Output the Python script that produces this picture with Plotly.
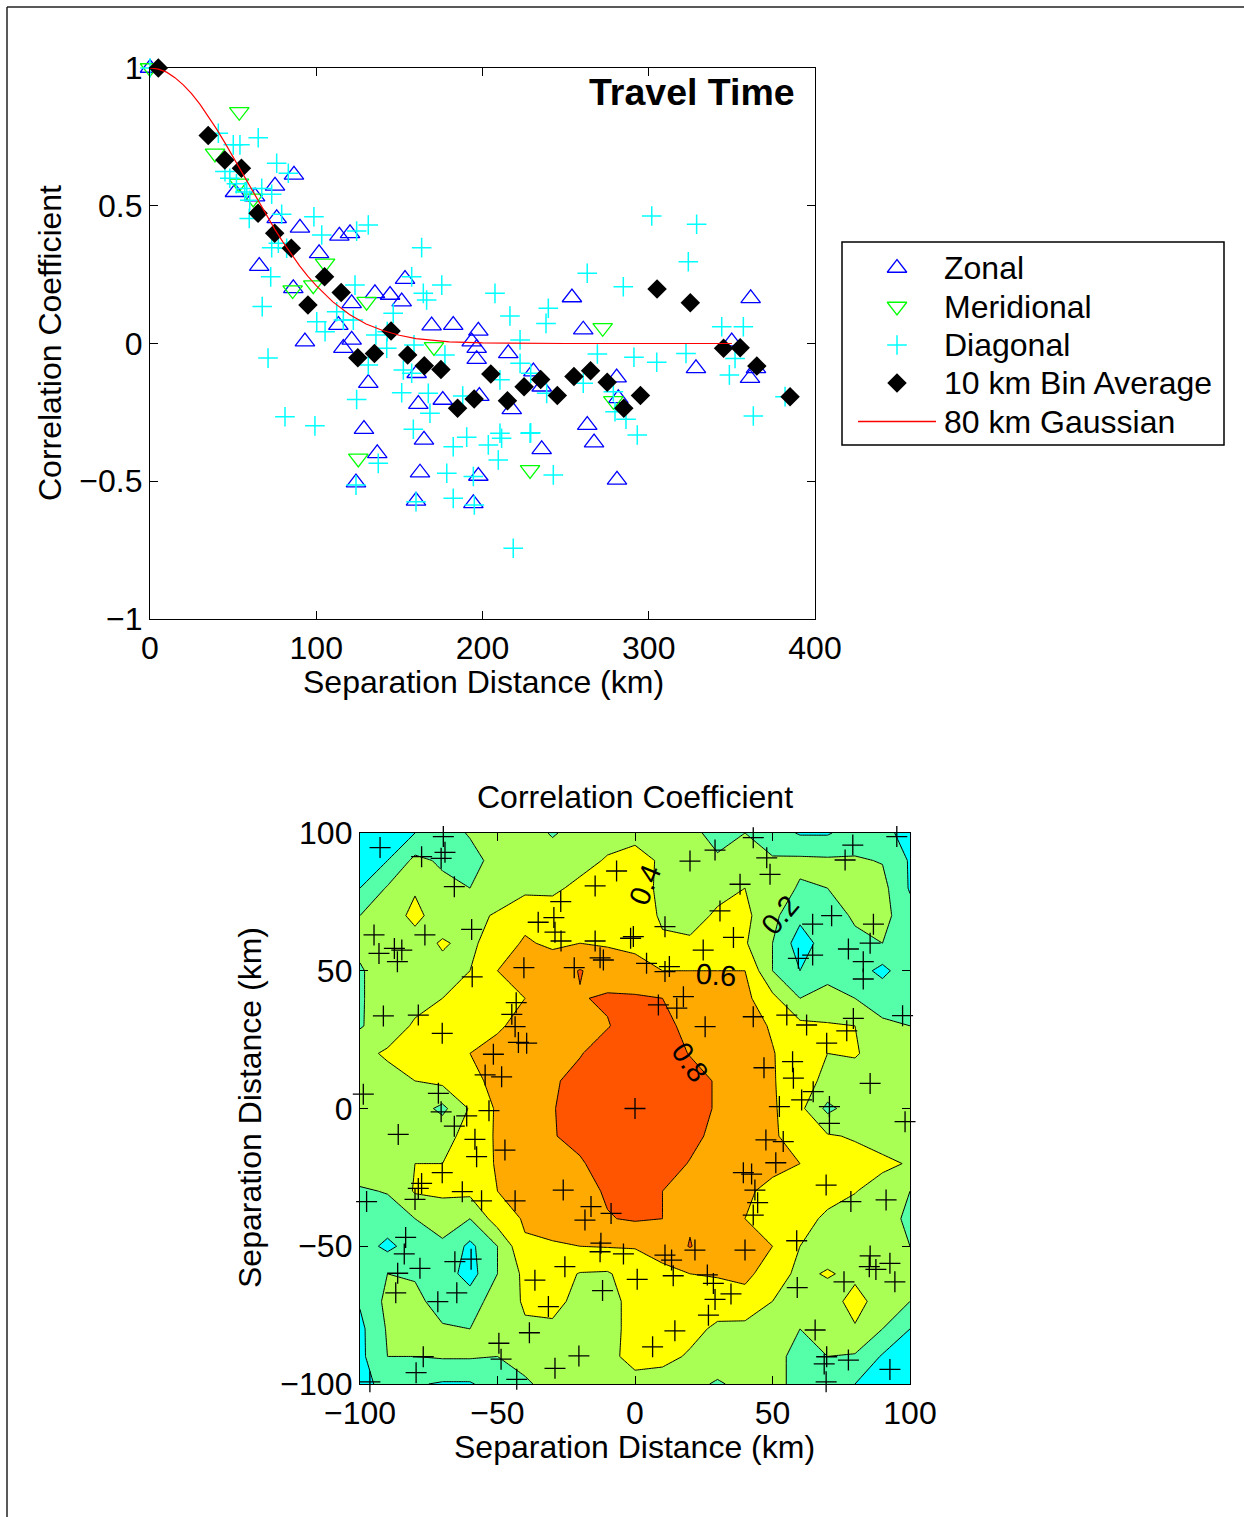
import plotly.graph_objects as go

# ---------------- Top panel data ----------------
zonal_d = [0, 86.6, 75.2, 51.1, 63.2, 76.2, 90.2, 113.9, 120.3, 101.7, 65.7, 86.2, 135.3, 144.4, 151.4,
           153.4, 113.3, 93.2, 121.3, 169.4, 116.3, 121.3, 182.4, 197.5, 193.5, 196.5, 196.5, 215.5, 253.8,
           260.6, 131.3, 160.4, 161.4, 176.1, 198.1, 217.6, 235.6, 128.7, 164.8, 136.7, 235.6, 123.9, 162.4,
           197.5, 160.0, 194.5, 230.6, 280.7, 281.7, 328.4, 349.9, 361.3, 360.9, 364.5, 263.0, 267.1, 280.9]
zonal_r = [1.00, 0.612, 0.572, 0.549, 0.533, 0.454, 0.420, 0.391, 0.400, 0.327, 0.281, 0.200, 0.182, 0.176,
           0.152, 0.234, 0.067, 0.007, 0.013, 0.065, -0.017, 0.146, 0.067, 0.046, 0.007, -0.017, -0.057,
           -0.036, 0.167, 0.050, -0.144, -0.108, -0.220, -0.205, -0.191, -0.239, -0.157, -0.311, -0.350,
           -0.399, -0.384, -0.505, -0.469, -0.481, -0.571, -0.580, -0.102, -0.124, -0.199, -0.090, 0.007,
           0.164, -0.126, -0.090, -0.296, -0.360, -0.495]

merid_d = [0, 53.7, 39.1, 53.5, 62.1, 105.3, 98.2, 85.8, 130.3, 170.8, 125.3, 228.6, 272.3, 278.7]
merid_r = [1.0, 0.841, 0.690, 0.581, 0.527, 0.291, 0.212, 0.194, 0.152, -0.012, -0.417, -0.459, 0.057, -0.208]

diag_d = [0, 41.1, 65.1, 50.1, 54.1, 45.1, 76.2, 83.2, 58.2, 67.2, 73.2, 59.7, 79.2, 98.6, 131.3, 103.3, 77.2,
          73.2, 82.2, 72.6, 123.3, 164.4, 157.4, 67.5, 100.3, 105.3, 122.3, 135.9, 163.4, 158.8, 142.4, 124.3,
          175.5, 207.5, 239.6, 216.5, 238.2, 166.4, 146.3, 116.3, 177.4, 152.4, 157.4, 151.4, 131.3, 124.3,
          81.2, 99.2, 158.4, 167.4, 168.4, 182.4, 190.5, 188.1, 203.5, 210.5, 211.5, 209.5, 228.6, 222.6,
          210.5, 229.0, 242.6, 194.5, 178.5, 182.4, 160.0, 195.1, 218.5, 137.3, 123.9, 301.8, 328.8, 323.8,
          263.0, 284.7, 343.9, 356.9, 269.1, 291.1, 304.8, 322.4, 351.9, 348.5, 222.6, 260.6, 238.6, 278.7,
          279.7, 286.3, 382.0, 362.9, 229.0, 293.1, 71.0, 112.3, 142.7, 52, 57, 48, 60]
diag_r = [1.0, 0.763, 0.747, 0.721, 0.721, 0.624, 0.654, 0.618, 0.563, 0.563, 0.542, 0.454, 0.469, 0.460,
          0.430, 0.394, 0.364, 0.348, 0.346, 0.242, 0.212, 0.182, 0.242, 0.134, 0.079, 0.043, 0.085, 0.031,
          0.348, -0.005, -0.017, 0.408, 0.212, 0.182, 0.128, 0.100, 0.073, 0.158, 0.110, 0.085, -0.042,
          -0.096, -0.108, -0.179, -0.078, -0.203, -0.266, -0.299, -0.311, -0.181, -0.253, -0.375, -0.340,
          -0.191, -0.368, -0.326, -0.344, -0.423, -0.326, 0.013, -0.132, -0.108, -0.477, -0.483, -0.471,
          -0.562, -0.574, -0.586, -0.743, -0.435, -0.514, 0.463, 0.433, 0.297, 0.255, 0.206, 0.061, 0.061,
          -0.038, -0.050, -0.068, -0.036, -0.054, -0.114, -0.072, -0.144, -0.181, -0.175, -0.248, -0.275,
          -0.193, -0.263, -0.324, -0.332, -0.053, 0.115, 0.043, 0.58, 0.55, 0.60, 0.52]

bin_d = [5, 35, 45, 55, 65, 75, 85, 95, 105, 115, 125, 135, 145, 155, 165, 175, 185, 195, 205, 215, 225,
         235, 245, 255, 265, 275, 285, 295, 305, 325, 345, 355, 365, 385]
bin_r = [1.0, 0.755, 0.666, 0.636, 0.473, 0.400, 0.346, 0.140, 0.242, 0.185, -0.052, -0.036, 0.045,
         -0.042, -0.081, -0.094, -0.235, -0.201, -0.111, -0.208, -0.157, -0.131, -0.189, -0.120, -0.099,
         -0.141, -0.235, -0.189, 0.198, 0.148, -0.017, -0.015, -0.082, -0.193]

gauss_d = [0, 5, 10, 15, 20, 25, 30, 35, 40, 45, 50, 55, 60, 65, 70, 75, 80, 85, 90, 95, 100, 110, 120,
           130, 140, 150, 160, 180, 200, 250, 300, 350]
gauss_r = [1.000, 0.996, 0.985, 0.965, 0.939, 0.907, 0.869, 0.826, 0.779, 0.729, 0.677, 0.623, 0.570,
           0.517, 0.465, 0.415, 0.368, 0.323, 0.282, 0.244, 0.210, 0.151, 0.105, 0.071, 0.047, 0.030,
           0.018, 0.006, 0.002, 0.000, 0.000, 0.000]

top_xticks = [0, 100, 200, 300, 400]
top_yticks = [-1, -0.5, 0, 0.5, 1]
top_yticklabels = ["\u22121", "\u22120.5", "0", "0.5", "1"]

legend_labels = ["Zonal", "Meridional", "Diagonal", "10 km Bin Average", "80 km Gaussian"]

# ---------------- Bottom panel data ----------------
grid_x = [-100, -90, -80, -70, -60, -50, -40, -30, -20, -10, 0, 10, 20, 30, 40, 50, 60, 70, 80, 90, 100]
grid_y_top_down = [100, 90, 80, 70, 60, 50, 40, 30, 20, 10, 0, -10, -20, -30, -40, -50, -60, -70, -80, -90, -100]
z_rows_top_down = [
    [-0.10, -0.05, 0.00, 0.10, 0.22, 0.28, 0.30, 0.18, 0.28, 0.32, 0.36, 0.32, 0.24, 0.15, 0.20, 0.10, -0.02, -0.02, 0.10, 0.08, -0.10],
    [-0.08, 0.00, 0.25, 0.17, 0.12, 0.28, 0.30, 0.30, 0.33, 0.42, 0.45, 0.38, 0.20, 0.22, 0.25, 0.22, 0.24, 0.23, 0.22, 0.19, -0.02],
    [0.00, 0.22, 0.38, 0.25, 0.20, 0.30, 0.35, 0.36, 0.45, 0.50, 0.50, 0.35, 0.28, 0.36, 0.40, 0.30, 0.18, 0.20, 0.26, 0.26, -0.02],
    [0.20, 0.30, 0.45, 0.30, 0.35, 0.42, 0.55, 0.50, 0.55, 0.52, 0.48, 0.38, 0.35, 0.42, 0.45, 0.25, 0.05, 0.10, 0.23, 0.26, 0.08],
    [0.25, 0.30, 0.32, 0.42, 0.35, 0.52, 0.62, 0.57, 0.60, 0.58, 0.55, 0.42, 0.42, 0.50, 0.42, 0.20, -0.10, 0.10, 0.15, 0.20, 0.15],
    [0.18, 0.30, 0.30, 0.35, 0.40, 0.60, 0.66, 0.70, 0.81, 0.72, 0.68, 0.60, 0.60, 0.60, 0.60, 0.20, 0.00, 0.15, 0.10, -0.06, 0.15],
    [0.18, 0.30, 0.35, 0.40, 0.50, 0.50, 0.60, 0.72, 0.79, 0.82, 0.82, 0.80, 0.72, 0.68, 0.65, 0.45, 0.20, 0.25, 0.20, 0.15, 0.10],
    [0.18, 0.32, 0.42, 0.45, 0.52, 0.58, 0.65, 0.72, 0.74, 0.79, 0.88, 0.85, 0.75, 0.70, 0.68, 0.58, 0.45, 0.42, 0.40, 0.22, 0.20],
    [0.36, 0.42, 0.45, 0.50, 0.60, 0.65, 0.70, 0.75, 0.79, 0.88, 0.92, 0.90, 0.79, 0.72, 0.70, 0.61, 0.50, 0.40, 0.42, 0.30, 0.28],
    [0.30, 0.35, 0.40, 0.45, 0.55, 0.65, 0.72, 0.78, 0.85, 0.90, 0.95, 0.92, 0.88, 0.78, 0.70, 0.62, 0.45, 0.37, 0.30, 0.30, 0.25],
    [0.30, 0.30, 0.30, 0.15, 0.42, 0.63, 0.70, 0.79, 0.88, 0.95, 1.00, 0.95, 0.88, 0.78, 0.70, 0.63, 0.45, 0.15, 0.30, 0.30, 0.30],
    [0.30, 0.30, 0.32, 0.35, 0.45, 0.63, 0.70, 0.79, 0.85, 0.92, 0.95, 0.92, 0.85, 0.75, 0.70, 0.63, 0.50, 0.42, 0.38, 0.30, 0.30],
    [0.30, 0.30, 0.40, 0.40, 0.48, 0.62, 0.70, 0.75, 0.78, 0.88, 0.90, 0.88, 0.79, 0.70, 0.65, 0.65, 0.60, 0.50, 0.48, 0.45, 0.38],
    [0.18, 0.21, 0.42, 0.45, 0.45, 0.60, 0.66, 0.72, 0.74, 0.82, 0.88, 0.80, 0.75, 0.70, 0.63, 0.55, 0.45, 0.42, 0.41, 0.30, 0.20],
    [0.12, 0.12, 0.20, 0.25, 0.20, 0.50, 0.62, 0.68, 0.72, 0.79, 0.82, 0.80, 0.78, 0.70, 0.60, 0.50, 0.42, 0.39, 0.30, 0.30, 0.15],
    [0.10, -0.05, 0.10, 0.18, -0.05, 0.20, 0.58, 0.58, 0.60, 0.61, 0.61, 0.68, 0.81, 0.68, 0.65, 0.60, 0.40, 0.30, 0.30, 0.30, 0.20],
    [0.05, 0.20, 0.18, 0.10, -0.08, 0.20, 0.45, 0.48, 0.39, 0.38, 0.50, 0.55, 0.60, 0.62, 0.65, 0.50, 0.35, 0.42, 0.35, 0.30, 0.25],
    [0.02, 0.25, 0.25, 0.12, 0.10, 0.30, 0.42, 0.45, 0.35, 0.35, 0.45, 0.50, 0.50, 0.48, 0.52, 0.40, 0.30, 0.30, 0.48, 0.30, 0.20],
    [-0.05, 0.22, 0.25, 0.22, 0.20, 0.30, 0.38, 0.37, 0.32, 0.35, 0.45, 0.50, 0.45, 0.37, 0.35, 0.30, 0.20, 0.28, 0.38, 0.20, 0.00],
    [-0.05, 0.20, 0.20, 0.22, 0.22, 0.20, 0.25, 0.30, 0.30, 0.36, 0.45, 0.45, 0.38, 0.30, 0.30, 0.25, 0.15, 0.20, 0.18, -0.02, -0.10],
    [-0.10, 0.10, 0.02, -0.02, -0.02, 0.10, 0.18, 0.25, 0.30, 0.30, 0.35, 0.32, 0.25, 0.18, 0.25, 0.25, 0.15, 0.10, 0.00, -0.05, -0.10],
]
contour_levels = [0.0, 0.8, 0.2]  # start, end, step

pts_x = [-92.7, -69.7, -69.1, -70.5, -77.6, -65.7, -59.4, -76.4, -94.9, -93.1, -87.5, -84.8, -86.4, -27.0,
         -29.5, -35.2, -29.1, -26.9, -14.5, -6.7, -14.5, -12.7, -11.5, -1.6, -40.4, -22.1, -59.2, -43.2,
         -44.8, -43.6, -42.4, -39.4, -51.5, -48.5, -54.5, -70.1, -78.8, -91.5, -98.8, -71.5,
         43.0, 29.1, 20.0, 47.9, 49.1, 38.2, 79.2, 76.4, 95.2, 30.9, 10.9, -0.6, 35.8, 24.8, 4.2, 12.5, 10.9,
         64.6, 71.5, 86.7, 85.5, 77.6, 59.4, 64.6, 83.0, 83.0, 17.6, 8.5, 15.2, 25.5, 43.0, 55.2, 62.4, 79.4,
         77.0, 69.7, 57.3, 57.6, 46.9, 85.5, 64.8, 60.6, 97.3,
         -70.5, -61.2, -53.1, -65.7, -86.1, -58.2, -57.6, -47.3, -70.1, -77.6, -78.8, -80.0, -62.8, -55.8,
         -97.6, -43.6, -26.1, -16.0, -18.2, -8.7, -12.4, -12.7, -4.2, -25.5, -83.4, -83.9, -86.3, -78.2,
         -87.0, -71.7, -64.8, -65.5, -59.6, -36.4, -31.5, -11.8, -38.4, -49.5, -48.7, -77.0, -79.6, -20.4,
         -29.1, -43.0, -96.4,
         0.0, 52.5, 70.7, 70.7, 98.2, 47.6, 53.9, 51.2, 39.4, 42.4, 43.6, 44.6, 43.0, 69.5, 78.5, 91.3, 58.8,
         40.0, 21.8, 10.9, 13.3, 0.8, 13.9, 26.3, 28.5, 29.1, 34.9, 26.7, 14.5, 6.4, 59.0, 76.0, 85.5, 85.2,
         87.6, 92.7, 94.5, 65.5, 69.7, 68.8, 77.6, 69.5, 92.7]
pts_y = [94.7, 98.7, 93.0, 90.8, 91.4, 80.5, 65.0, 63.0, 63.0, 56.3, 58.1, 57.5, 53.3, 75.1,
         69.3, 67.6, 64.0, 60.8, 80.8, 86.2, 60.8, 54.7, 53.9, 61.8, 51.1, 51.1, 47.8, 38.4,
         34.2, 29.7, 24.0, 23.7, 19.7, 11.5, 12.2, 27.3, 33.9, 33.6, 5.2, 5.5,
         98.3, 93.8, 89.8, 91.0, 85.0, 81.4, 95.6, 90.2, 98.7, 71.7, 66.0, 62.4, 62.1, 57.5, 52.7, 51.5, 49.7,
         66.9, 70.0, 66.9, 60.0, 57.9, 54.5, 55.7, 53.3, 47.0, 40.6, 37.6, 36.4, 29.7, 33.3, 33.9, 30.3, 32.7,
         28.2, 23.7, 17.0, 11.0, 14.8, 9.1, 6.1, 3.1, 33.7,
         -1.2, -2.7, -0.8, -6.4, -9.4, -11.2, -17.5, -15.1, -23.3, -27.2, -29.0, -33.0, -30.2, -33.5,
         -33.8, -33.5, -29.6, -35.6, -40.5, -38.1, -48.9, -52.0, -52.8, -57.4, -46.8, -52.8, -59.8, -58.0,
         -66.9, -70.1, -66.9, -55.6, -54.7, -62.3, -71.9, -66.1, -81.4, -85.2, -91.0, -90.1, -95.9, -89.8,
         -94.3, -98.3, -99.2,
         0.0, 0.7, 0.7, -5.4, -4.8, -11.4, -12.0, -19.7, -23.3, -23.8, -29.6, -34.2, -38.7, -27.8, -33.8, -33.2, -48.0,
         -51.4, -51.4, -53.2, -55.0, -62.0, -60.7, -60.4, -63.5, -69.3, -67.3, -75.0, -80.7, -86.5, -65.0, -62.9, -53.5, -57.4,
         -58.4, -56.2, -62.9, -80.4, -90.1, -92.7, -91.3, -99.2, -94.7]

bot_ticks = [-100, -50, 0, 50, 100]
bot_ticklabels = ["\u2212100", "\u221250", "0", "50", "100"]

label_text = ["0.2", "0.4", "0.6", "0.8"]
label_x = [52.7, 3.6, 29.5, 20.0]
label_y = [70.2, 81.1, 48.5, 16.9]
label_angle = [-50, -68, 4, 55]

# ---------------- Figure ----------------
W, H = 1244, 1517
FONT = "Liberation Sans, Arial, Helvetica, sans-serif"
FS = 32
BLUE, GREEN, CYAN = "#0000ff", "#00ff00", "#00ffff"
fig = go.Figure()

zonal_marker = dict(symbol="triangle-up-open", size=17, color=BLUE, line=dict(width=1.3, color=BLUE))
merid_marker = dict(symbol="triangle-down-open", size=17, color=GREEN, line=dict(width=1.3, color=GREEN))
diag_marker = dict(symbol="cross-thin-open", size=14, color=CYAN, line=dict(width=1.5, color=CYAN))
bin_marker = dict(symbol="diamond", size=15, color="black")
gauss_line = dict(color="#ff0000", width=1.2)

fig.add_trace(go.Scatter(x=zonal_d, y=zonal_r, mode="markers", name=legend_labels[0], cliponaxis=False,
                         marker=zonal_marker, showlegend=False))
fig.add_trace(go.Scatter(x=merid_d, y=merid_r, mode="markers", name=legend_labels[1], cliponaxis=False,
                         marker=merid_marker, showlegend=False))
fig.add_trace(go.Scatter(x=diag_d, y=diag_r, mode="markers", name=legend_labels[2], cliponaxis=False,
                         marker=diag_marker, showlegend=False))
fig.add_trace(go.Scatter(x=bin_d, y=bin_r, mode="markers", name=legend_labels[3], cliponaxis=False,
                         marker=bin_marker, showlegend=False))
fig.add_trace(go.Scatter(x=gauss_d, y=gauss_r, mode="lines", name=legend_labels[4], line=gauss_line,
                         showlegend=False))

z_rows = z_rows_top_down[::-1]
grid_y = grid_y_top_down[::-1]
cs = [[0.0, "#00ffff"], [1/6, "#00ffff"], [1/6, "#55ffaa"], [2/6, "#55ffaa"], [2/6, "#aaff55"],
      [3/6, "#aaff55"], [3/6, "#ffff00"], [4/6, "#ffff00"], [4/6, "#ffaa00"], [5/6, "#ffaa00"],
      [5/6, "#ff5500"], [1.0, "#ff5500"]]
fig.add_trace(go.Contour(x=grid_x, y=grid_y, z=z_rows, xaxis="x2", yaxis="y2", showscale=False,
                         zauto=False, zmin=-0.2, zmax=1.0, colorscale=cs, showlegend=False,
                         autocontour=False,
                         contours=dict(start=contour_levels[0], end=contour_levels[1], size=contour_levels[2],
                                       coloring="fill", showlines=True),
                         line=dict(color="black", width=1, smoothing=0), hoverinfo="skip"))
fig.add_trace(go.Scatter(x=pts_x, y=pts_y, xaxis="x2", yaxis="y2", mode="markers", showlegend=False,
                         cliponaxis=False,
                         marker=dict(symbol="cross-thin-open", size=15, color="black", line=dict(width=1.3, color="black"))))

# ---- legend box (hand-built so spacing matches the figure) ----
LB = dict(l=842, r=1224, t=242, b=445)          # legend frame, page pixels
leg_rows = [268, 306.5, 345, 383, 421.5]        # row centres, page pixels
leg_sym_x, leg_line_x0, leg_line_x1, leg_text_x = 897, 858, 936, 942
leg_markers = [zonal_marker, merid_marker, diag_marker, bin_marker]
for i, mk in enumerate(leg_markers):
    fig.add_trace(go.Scatter(x=[leg_sym_x], y=[leg_rows[i]], xaxis="x3", yaxis="y3", mode="markers",
                             marker=mk, showlegend=False, hoverinfo="skip", cliponaxis=False))

axis_common = dict(showline=True, linecolor="black", linewidth=1.3, mirror="allticks", ticks="inside",
                   ticklen=8, tickwidth=1.2, tickcolor="black", showgrid=False, zeroline=False,
                   tickfont=dict(size=FS, color="black", family=FONT))

fig.update_layout(
    width=W, height=H, margin=dict(l=0, r=0, t=0, b=0, autoexpand=False),
    paper_bgcolor="white", plot_bgcolor="white",
    font=dict(family=FONT, size=FS, color="black"),
    xaxis=dict(domain=[150/W, 815/W], range=[0, 400], tickvals=top_xticks, anchor="y", **axis_common),
    yaxis=dict(domain=[1-619/H, 1-68/H], range=[-1, 1], tickvals=top_yticks, ticktext=top_yticklabels,
               anchor="x", **axis_common),
    xaxis2=dict(domain=[360/W, 910/W], range=[-100, 100], tickvals=bot_ticks, ticktext=bot_ticklabels,
                anchor="y2", **axis_common),
    yaxis2=dict(domain=[1-1384/H, 1-833/H], range=[-100, 100], tickvals=bot_ticks, ticktext=bot_ticklabels,
                anchor="x2", **axis_common),
    xaxis3=dict(domain=[LB["l"]/W, LB["r"]/W], range=[LB["l"], LB["r"]], visible=False, anchor="y3",
                fixedrange=True),
    yaxis3=dict(domain=[1-LB["b"]/H, 1-LB["t"]/H], range=[LB["b"], LB["t"]], visible=False, anchor="x3",
                fixedrange=True),
    showlegend=False,
)

ann = [
    dict(text="<b>Travel Time</b>", x=692/W, y=1-92/H, font=dict(size=37.5)),
    dict(text="Separation Distance (km)", x=483/W, y=1-682/H),
    dict(text="Correlation Coefficient", x=50/W, y=1-343/H, textangle=-90),
    dict(text="Correlation Coefficient", x=635/W, y=1-797/H),
    dict(text="Separation Distance (km)", x=635/W, y=1-1447/H),
    dict(text="Separation Distance (km)", x=250/W, y=1-1108/H, textangle=-90),
]
for a in ann:
    a.update(xref="paper", yref="paper", showarrow=False, xanchor="center", yanchor="middle")
for lab, ry in zip(legend_labels, leg_rows):
    ann.append(dict(text=lab, x=leg_text_x/W, y=1-ry/H, xref="paper", yref="paper", showarrow=False,
                    xanchor="left", yanchor="middle"))
for t, lx, ly, a in zip(label_text, label_x, label_y, label_angle):
    ann.append(dict(text=t, x=lx, y=ly, xref="x2", yref="y2", showarrow=False, textangle=a,
                    xanchor="center", yanchor="middle", font=dict(size=29)))
fig.update_layout(annotations=ann)

fig.add_shape(type="rect", xref="paper", yref="paper", x0=LB["l"]/W, x1=LB["r"]/W, y0=1-LB["b"]/H,
              y1=1-LB["t"]/H, line=dict(color="black", width=1.5), fillcolor="rgba(0,0,0,0)", layer="above")
fig.add_shape(type="line", xref="paper", yref="paper", x0=leg_line_x0/W, x1=leg_line_x1/W,
              y0=1-leg_rows[4]/H, y1=1-leg_rows[4]/H, line=dict(color="#ff0000", width=1.4), layer="above")
fig.add_shape(type="line", xref="paper", yref="paper", x0=7/W, x1=1, y0=1-7/H, y1=1-7/H,
              line=dict(color="#222222", width=1.5))
fig.add_shape(type="line", xref="paper", yref="paper", x0=7/W, x1=7/W, y0=0, y1=1-7/H,
              line=dict(color="#222222", width=1.5))

fig.write_html("out.html")
